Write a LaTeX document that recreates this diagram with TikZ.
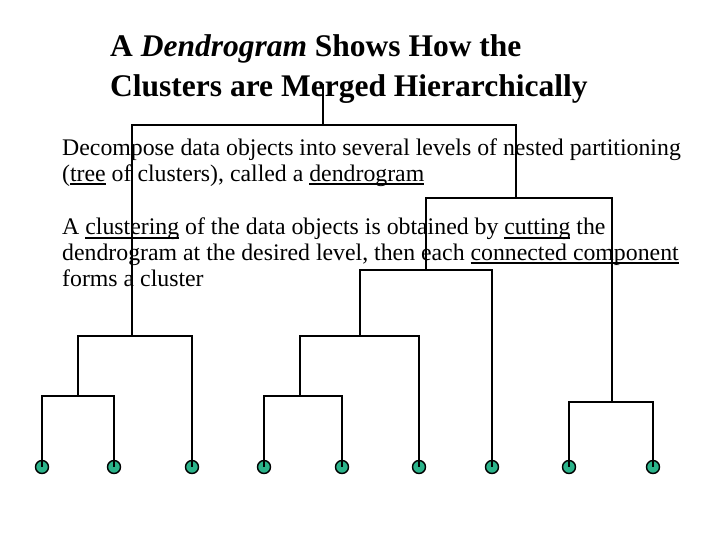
\documentclass[tikz,border=0pt]{standalone}
\usepackage{fontspec}
\setmainfont{Liberation Serif}
\definecolor{leaf}{HTML}{2BB38A}
\newcommand\myul[1]{\setbox0\hbox{#1}\rlap{\rule[-3.5pt]{\wd0}{2pt}}#1}
\begin{document}
\begin{tikzpicture}[x=1pt,y=-1pt,
  ttl/.style={anchor=base west,inner sep=0pt,font=\fontsize{31.5}{36}\selectfont\bfseries},
  body/.style={anchor=base west,inner sep=0pt,font=\fontsize{23.8}{28}\selectfont},
  br/.style={line width=2.4pt,line cap=rect},
  lf/.style={circle,draw=black,line width=1.4pt,fill=leaf,minimum size=13pt,inner sep=0pt}]
\useasboundingbox (0,0) rectangle (720,540);
\node[ttl] (t1) at (110,57) {A \textit{Dendrogram} Shows How the};
\node[ttl] (t2) at (110,97) {Clusters are Merged Hierarchically};
\node[body] (b1) at (62,156) {Decompose data objects into several levels of nested partitioning};
\node[body] (b2) at (62,182) {(\myul{tree} of clusters), called a \myul{dendrogram}};
\node[body] (b3) at (62,235) {A \myul{clustering} of the data objects is obtained by \myul{cutting} the};
\node[body] (b4) at (62,260) {dendrogram at the desired level, then each \myul{connected component}};
\node[body] (b5) at (62,286) {forms a cluster};
% leaves
\foreach \n/\x in {1/42,2/114,3/192,4/264,5/342,6/419,7/492,8/569,9/653}
  \coordinate (l\n) at (\x,467);
% internal joins
\coordinate (a) at (78,396);
\coordinate (b) at (132,336);
\coordinate (c) at (300,396);
\coordinate (d) at (360,336);
\coordinate (e) at (426,270);
\coordinate (f) at (612,402);
\coordinate (g) at (516,198);
\coordinate (h) at (323,125);
\coordinate (top) at (323,85);
\draw[br] (l1) |- (a) -| (l2);
\draw[br] (a) |- (b) -| (l3);
\draw[br] (l4) |- (c) -| (l5);
\draw[br] (c) |- (d) -| (l6);
\draw[br] (d) |- (e) -| (l7);
\draw[br] (l8) |- (f) -| (l9);
\draw[br] (e) |- (g) -| (f);
\draw[br] (b) |- (h) -| (g);
\draw[br] (h) -- (top);
\foreach \n in {1,...,9} {
  \node[lf] (c\n) at (l\n) {};
  \draw[line width=1.4pt] (c\n.north) -- (c\n.center);
}
\end{tikzpicture}
\end{document}
